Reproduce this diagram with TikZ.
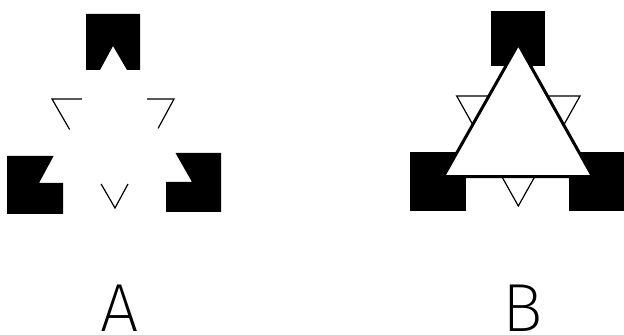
\documentclass[tikz,border=0pt]{standalone}
\usepackage{fontspec}
\setmainfont{Fira Sans}[UprightFont=* ExtraLight]
\usetikzlibrary{calc}
\begin{document}
\begin{tikzpicture}[x=0.5pt,y=-0.5pt,
  blk/.style={fill=black,draw=none},
  thin outline/.style={draw=black,line width=0.6pt,line join=miter},
  thick outline/.style={draw=black,fill=white,line width=1.5pt,line join=miter},
  lbl/.style={anchor=base,inner sep=0pt,font=\fontsize{34}{40}\selectfont}]
\useasboundingbox (0,0) rectangle (624,335);
% ---------- Figure A ----------
\coordinate (aT) at (113,46);
\coordinate (aL) at (39,183);
\coordinate (aR) at (192,182);
\fill[blk] (86,14) -- (140,14) -- (140,70) -- (127,70) -- (aT) -- (100,70) -- (86,70) -- cycle;
\fill[blk] (7,156) -- (53.6,156) -- (aL) -- (63,183) -- (63,214) -- (7,214) -- cycle;
\fill[blk] (175.5,153) -- (221,153) -- (221,212) -- (166,212) -- (166,182) -- (aR) -- cycle;
\coordinate (iL) at (52,99);
\coordinate (iR) at (174,99);
\coordinate (iB) at (115,208);
\draw[thin outline] ($(iL)!0.245!(iR)$) -- (iL) -- ($(iL)!0.28!(iB)$);
\draw[thin outline] ($(iR)!0.22!(iL)$) -- (iR) -- ($(iR)!0.27!(iB)$);
\draw[thin outline] ($(iB)!0.22!(iL)$) -- (iB) -- ($(iB)!0.22!(iR)$);
% ---------- Figure B ----------
\fill[blk] (490.7,11) rectangle (544.7,66);
\fill[blk] (410,152) rectangle (465.7,211);
\fill[blk] (569,152) rectangle (624,211);
\coordinate (jL) at (456.7,96);
\coordinate (jR) at (580,96);
\coordinate (jB) at (518.3,206);
\draw[thin outline,fill=white] (jL) -- (jR) -- (jB) -- cycle;
\coordinate (bT) at (518.3,44);
\coordinate (bL) at (443.3,176.7);
\coordinate (bR) at (592.7,176.7);
\draw[thick outline] (bT) -- (bR) -- (bL) -- cycle;
% ---------- labels ----------
\node[lbl] (labA) at (120,331) {A};
\node[lbl] (labB) at (523,331) {B};
\end{tikzpicture}
\end{document}
